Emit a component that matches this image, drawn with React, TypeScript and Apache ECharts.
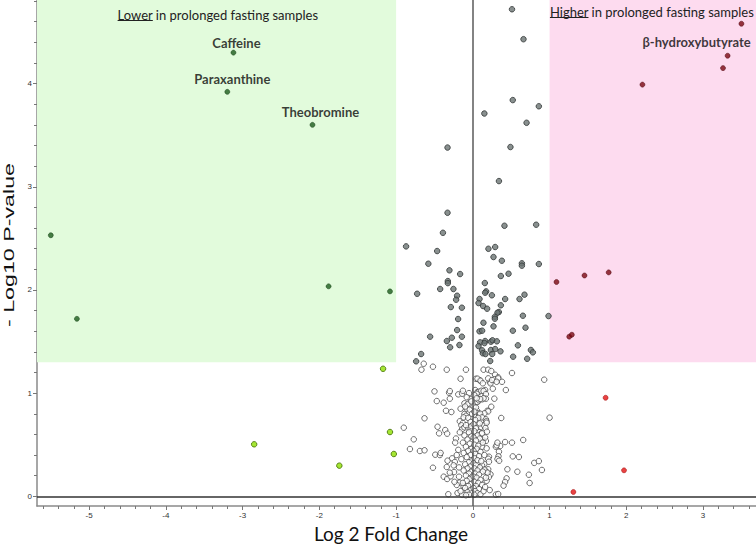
import React, { useEffect, useRef } from "react";
import * as echarts from "echarts";

// Axis extents and thresholds
const X_MIN = -5.68;
const X_MAX = 3.69;
const Y_MIN = -0.094;
const Y_MAX = 4.81;
const FC_CUT = 1;
const P_CUT = 1.3;

const xTickLabels = [-5, -4, -3, -2, -1, 0, 1, 2, 3];
const yTickLabels = [0, 1, 2, 3, 4];

// Significant, lower in fasting (dark green)
const sigDown: number[][] = [
  [-3.12, 4.3], [-3.2, 3.92], [-2.09, 3.6], [-5.5, 2.53], [-5.16, 1.72], [-1.88, 2.035], [-1.08, 1.986],
];
const sigDownNames = ["Caffeine", "Paraxanthine", "Theobromine", "", "", "", ""];

// Not significant, fold change < -1 (lime)
const nsDown: number[][] = [
  [-1.17, 1.236], [-2.85, 0.504], [-1.74, 0.297], [-1.08, 0.623], [-1.03, 0.41],
];

// Significant, higher in fasting (dark red)
const sigUp: number[][] = [
  [3.5, 4.58], [3.32, 4.27], [3.26, 4.15], [2.21, 3.99], [1.09, 2.077], [1.455, 2.14], [1.77, 2.17], [1.256, 1.547], [1.29, 1.566],
];
const sigUpNames = ["", "β-hydroxybutyrate", "", "", "", "", "", "", ""];

// Not significant, fold change > 1 (red)
const nsUp: number[][] = [
  [1.73, 0.955], [1.97, 0.252], [1.31, 0.042],
];

// Significant, |fold change| < 1 (grey filled)
const sigFlat: number[][] = [
  [0.51, 4.72], [0.66, 4.43], [0.52, 3.84], [0.86, 3.78], [0.15, 3.71], [0.7, 3.62], [-0.33, 3.38], [0.49, 3.385], [0.34, 3.055],
  [-0.33, 2.748], [-0.39, 2.554], [-0.87, 2.422], [-0.465, 2.377], [-0.58, 2.254], [-0.305, 2.19], [-0.166, 2.154], [-0.326, 2.086],
  [-0.326, 2.066], [-0.726, 1.963], [-0.426, 2.009], [-0.253, 2.009], [-0.205, 1.944], [-0.218, 1.905], [-0.287, 1.834], [-0.143, 1.828],
  [-0.192, 1.718], [-0.205, 1.611], [-0.557, 1.547], [-0.274, 1.537], [-0.143, 1.547], [-0.339, 1.505], [-0.175, 1.466], [-0.296, 1.444],
  [-0.674, 1.379], [-0.739, 1.308],
  [0.412, 2.622], [0.825, 2.632], [0.203, 2.399], [0.291, 2.416], [0.269, 2.319], [0.378, 2.283], [0.639, 2.258], [0.639, 2.235],
  [0.86, 2.251], [0.365, 2.135], [0.465, 2.157], [0.156, 2.067], [0.173, 1.986], [0.16, 1.973], [0.248, 1.948], [0.087, 1.912],
  [0.421, 1.912], [0.608, 1.912], [0.673, 1.954], [0.074, 1.873], [0.134, 1.844], [0.186, 1.818], [0.365, 1.851], [0.339, 1.786],
  [0.321, 1.779], [0.287, 1.74], [0.287, 1.721], [0.652, 1.75], [0.986, 1.747], [0.138, 1.682], [0.269, 1.647], [0.521, 1.605],
  [0.686, 1.634], [0.087, 1.599], [0.121, 1.605], [0.16, 1.505], [0.095, 1.492], [0.152, 1.485], [0.235, 1.498], [0.256, 1.512],
  [0.313, 1.502], [0.074, 1.456], [0.121, 1.415], [0.13, 1.386], [0.165, 1.379], [0.235, 1.418], [0.252, 1.379], [0.291, 1.427],
  [0.36, 1.405], [0.587, 1.463], [0.525, 1.353], [0.756, 1.418], [0.782, 1.395], [0.708, 1.333], [0.226, 1.311],
];

// Not significant, |fold change| < 1 (open circles)
const nsFlat: number[][] = [
  [-0.64, 1.285], [-0.67, 1.227], [-0.52, 1.256], [-0.34, 1.227], [-0.09, 1.227], [0.14, 1.227], [0.2, 1.227], [0.24, 1.214],
  [0.29, 1.178], [0.33, 1.153], [0.28, 1.134], [0.38, 1.11], [0.51, 1.195], [0.93, 1.13], [0.04, 1.139], [0.09, 1.124],
  [0.22, 1.11], [0.23, 1.095], [-0.16, 1.139], [0.06, 1.14], [0.1, 1.12], [0.13, 1.095], [0.2, 1.143], [0.25, 1.127],
  [0.33, 1.143], [0.31, 1.11],
  [-0.5, 1.017], [-0.31, 1.004], [-0.3, 1.02], [-0.19, 0.988], [-0.14, 0.994], [-0.13, 1.023], [0.03, 1.03], [0.06, 1.011],
  [0.1, 0.991], [0.16, 1.03], [0.26, 1.043], [0.43, 1.03], [0.08, 1.013], [0.11, 1.023], [0.05, 0.994], [0.14, 1.02], [0.17, 0.99],
  [-0.47, 0.923], [-0.38, 0.907], [-0.3, 0.946], [-0.11, 0.901], [-0.07, 0.891], [-0.03, 0.94], [0.03, 0.901], [0.06, 0.914],
  [0.08, 0.93], [0.12, 0.94], [0.17, 0.946], [0.28, 0.946], [0.14, 0.95], [0.095, 0.943], [0.24, 0.868],
  [-0.35, 0.829], [-0.28, 0.817], [-0.16, 0.849], [-0.08, 0.849], [-0.11, 0.797], [-0.09, 0.781], [-0.12, 0.765], [0.056, 0.827],
  [0.065, 0.804], [0.043, 0.778], [0.082, 0.788], [0.19, 0.829], [0.2, 0.823], [0.15, 0.804], [0.095, 0.8], [0.12, 0.765],
  [0.17, 0.746], [0.37, 0.759], [1.0, 0.762], [-0.63, 0.756],
  [-0.17, 0.727], [-0.13, 0.71], [-0.15, 0.688], [-0.14, 0.649], [-0.11, 0.668], [-0.06, 0.662], [-0.03, 0.649], [0.065, 0.698],
  [0.052, 0.655], [0.099, 0.669], [0.082, 0.623], [0.112, 0.61], [0.143, 0.688], [0.177, 0.727], [0.164, 0.662], [0.183, 0.626],
  [0.09, 0.707], [0.18, 0.713], [-0.9, 0.665], [-0.46, 0.674], [-0.36, 0.642], [-0.335, 0.607], [-0.44, 0.61],
  [-0.77, 0.552], [-0.82, 0.458], [-0.69, 0.439], [-0.63, 0.446], [-0.49, 0.403], [-0.43, 0.4], [-0.42, 0.42], [-0.27, 0.368],
  [-0.33, 0.345], [0.656, 0.546], [0.51, 0.52], [0.42, 0.526], [0.356, 0.487], [0.3, 0.48], [0.34, 0.432], [0.52, 0.387],
  [0.6, 0.381], [0.13, 0.546], [0.17, 0.536], [0.12, 0.61], [0.12, 0.48], [0.18, 0.465], [0.31, 0.494], [0.32, 0.52],
  [0.21, 0.384], [0.2, 0.364], [0.334, 0.388], [0.321, 0.361], [0.343, 0.345],
  [0.8, 0.324], [0.86, 0.341], [0.9, 0.255], [0.45, 0.262], [0.58, 0.238], [0.73, 0.209], [0.74, 0.129], [0.44, 0.174],
  [0.42, 0.139], [0.4, 0.103], [0.3, 0.016], [0.33, 0.022], [0.23, 0.213], [0.21, 0.187], [0.2, 0.262], [0.175, 0.238],
  [0.15, 0.313], [0.21, 0.335], [0.12, 0.3], [0.151, 0.258], [0.191, 0.229],
  [-0.52, 0.277], [-0.34, 0.284], [-0.235, 0.333], [-0.38, 0.19], [-0.335, 0.168], [-0.245, 0.235], [-0.18, 0.19], [-0.29, 0.194],
  [-0.3, 0.229], [-0.175, 0.132], [-0.12, 0.093], [-0.075, 0.07], [-0.32, 0.02], [-0.2, 0.032], [-0.14, 0.015],
  [-0.05, 1.0], [-0.08, 0.96], [-0.02, 0.92], [-0.1, 0.87], [-0.04, 0.84], [-0.01, 0.8], [-0.06, 0.76], [-0.03, 0.72],
  [-0.09, 0.69], [-0.02, 0.68], [-0.05, 0.62], [-0.11, 0.59], [-0.02, 0.58], [-0.07, 0.55], [-0.13, 0.52], [-0.04, 0.51],
  [-0.09, 0.48], [-0.02, 0.46], [-0.06, 0.44], [-0.12, 0.42], [-0.03, 0.4], [-0.08, 0.38], [-0.15, 0.36], [-0.01, 0.35],
  [-0.05, 0.33], [-0.1, 0.31], [-0.03, 0.29], [-0.07, 0.27], [-0.12, 0.25], [-0.02, 0.24], [-0.05, 0.22], [-0.09, 0.2],
  [-0.01, 0.19], [-0.04, 0.17], [-0.08, 0.15], [-0.13, 0.13], [-0.02, 0.12], [-0.06, 0.1], [-0.1, 0.08], [-0.03, 0.06],
  [-0.07, 0.04], [-0.01, 0.03], [-0.05, 0.015], [-0.09, 0.01], [-0.16, 0.05], [-0.21, 0.11], [-0.25, 0.3], [-0.19, 0.45],
  [-0.22, 0.56], [-0.18, 0.28], [-0.21, 0.4], [-0.24, 0.14], [-0.17, 0.62], [-0.23, 0.52],
  [0.02, 0.98], [0.05, 0.95], [0.01, 0.87], [0.04, 0.86], [0.02, 0.82], [0.07, 0.76], [0.03, 0.74], [0.01, 0.7],
  [0.04, 0.66], [0.02, 0.63], [0.06, 0.59], [0.01, 0.57], [0.09, 0.56], [0.04, 0.54], [0.02, 0.5], [0.07, 0.49],
  [0.05, 0.46], [0.01, 0.44], [0.1, 0.43], [0.03, 0.41], [0.08, 0.39], [0.02, 0.37], [0.06, 0.35], [0.11, 0.34],
  [0.01, 0.32], [0.04, 0.3], [0.09, 0.28], [0.02, 0.27], [0.06, 0.25], [0.13, 0.24], [0.03, 0.22], [0.08, 0.21],
  [0.01, 0.19], [0.05, 0.18], [0.1, 0.16], [0.02, 0.14], [0.07, 0.13], [0.12, 0.11], [0.04, 0.1], [0.01, 0.08],
  [0.08, 0.07], [0.03, 0.05], [0.06, 0.03], [0.1, 0.02], [0.02, 0.015], [0.14, 0.05], [0.16, 0.09], [0.18, 0.15],
  [0.15, 0.4], [0.17, 0.18], [0.13, 0.52], [0.22, 0.06], [0.16, 0.57],
];

const labelOffsets: Record<string, number[]> = {
  Caffeine: [3, -10],
  Paraxanthine: [5, -13],
  Theobromine: [8, -13],
  "β-hydroxybutyrate": [-31, -14],
};

const LABEL_FONT = "Lato";
const TICK_FONT = "Liberation Sans";
const ANN_SIZE = 13;

function measure(text: string, font: string, fallbackPerChar: number): number {
  try {
    const c = document.createElement("canvas").getContext("2d");
    if (!c) return text.length * fallbackPerChar;
    c.font = font;
    const w = c.measureText(text).width;
    return isFinite(w) && w > 0 ? w : text.length * fallbackPerChar;
  } catch (e) {
    return text.length * fallbackPerChar;
  }
}

function minorTicks(lo: number, hi: number, step: number): number[] {
  const out: number[] = [];
  const start = Math.ceil(lo / step);
  const end = Math.floor(hi / step);
  for (let i = start; i <= end; i++) out.push(Math.round(i * step * 1000) / 1000);
  return out;
}

function withLabels(points: number[][], names: string[]) {
  return points.map((p, i) => {
    const name = names[i];
    if (!name) return { value: p };
    return {
      value: p,
      name,
      label: {
        show: true,
        position: "inside",
        offset: labelOffsets[name] || [0, -12],
        formatter: name,
        fontFamily: LABEL_FONT,
        fontWeight: "bold",
        fontSize: 13,
        color: "#0a0a0a",
      },
    };
  });
}

export default function App() {
  const ref = useRef<HTMLDivElement>(null);

  useEffect(() => {
    if (!ref.current) return;
    const chart = echarts.init(ref.current, null, { renderer: "svg" });

    const annFont = `${ANN_SIZE}px ${LABEL_FONT}`;
    const lowerText = "Lower in prolonged fasting samples";
    const higherText = "Higher in prolonged fasting samples";
    const lowerW = measure(lowerText, annFont, 6);
    const higherW = measure(higherText, annFont, 6);
    const lowerUW = measure("Lower", annFont, 6.5);
    const higherUW = measure("Higher", annFont, 6.5);
    const lowerX = 218 - lowerW / 2;
    const higherX = 652 - higherW / 2;

    const baseAxisX = {
      type: "value",
      min: X_MIN,
      max: X_MAX,
      splitLine: { show: false },
    };
    const baseAxisY = {
      type: "value",
      min: Y_MIN,
      max: Y_MAX,
      splitLine: { show: false },
    };

    const option: any = {
      animation: false,
      backgroundColor: "#ffffff",
      grid: { left: 37, right: 0, top: 0, bottom: 46, containLabel: false },
      xAxis: [
        {
          ...baseAxisX,
          axisLine: { show: true, onZero: false, lineStyle: { color: "#8a8a8a", width: 1.5 } },
          axisTick: { show: true, length: 4, customValues: xTickLabels, lineStyle: { color: "#777" } },
          axisLabel: {
            customValues: xTickLabels,
            fontSize: 8,
            color: "#333",
            fontFamily: TICK_FONT,
            margin: 5,
          },
        },
        {
          ...baseAxisX,
          position: "bottom",
          axisLine: { show: false, onZero: false },
          axisTick: { show: true, length: 3, customValues: minorTicks(X_MIN, X_MAX, 0.2), lineStyle: { color: "#777" } },
          axisLabel: { show: false },
        },
      ],
      yAxis: [
        {
          ...baseAxisY,
          axisLine: { show: true, onZero: false, lineStyle: { color: "#8a8a8a", width: 1.5 } },
          axisTick: { show: true, length: 4, customValues: yTickLabels, lineStyle: { color: "#777" } },
          axisLabel: {
            customValues: yTickLabels,
            fontSize: 8,
            color: "#333",
            fontFamily: TICK_FONT,
            margin: 5,
          },
        },
        {
          ...baseAxisY,
          position: "left",
          axisLine: { show: false, onZero: false },
          axisTick: { show: true, length: 3, customValues: minorTicks(Y_MIN, Y_MAX, 0.2), lineStyle: { color: "#777" } },
          axisLabel: { show: false },
        },
      ],
      series: [
        {
          type: "scatter",
          name: "regions",
          data: [],
          silent: true,
          markArea: {
            silent: true,
            itemStyle: { color: "#e2fbdc" },
            data: [
              [
                { xAxis: X_MIN, yAxis: P_CUT, itemStyle: { color: "#e2fbdc" } },
                { xAxis: -FC_CUT, yAxis: Y_MAX },
              ],
              [
                { xAxis: FC_CUT, yAxis: P_CUT, itemStyle: { color: "#fddbef" } },
                { xAxis: X_MAX, yAxis: Y_MAX },
              ],
            ],
          },
          markLine: {
            silent: true,
            symbol: "none",
            label: { show: false },
            data: [
              { xAxis: 0, lineStyle: { color: "#5a5a5a", width: 1.5, type: "solid" } },
              { yAxis: 0, lineStyle: { color: "#333333", width: 1.5, type: "solid" } },
            ],
          },
        },
        {
          type: "scatter",
          name: "ns",
          data: nsFlat,
          symbolSize: 5.5,
          itemStyle: { color: "#ffffff", borderColor: "#4a4a4a", borderWidth: 1 },
        },
        {
          type: "scatter",
          name: "sig",
          data: sigFlat,
          symbolSize: 5.5,
          itemStyle: { color: "#6c7473", borderColor: "#2e3333", borderWidth: 1 },
        },
        {
          type: "scatter",
          name: "nsDown",
          data: nsDown,
          symbolSize: 5.5,
          itemStyle: { color: "#8fe000", borderColor: "#3f6a00", borderWidth: 1 },
        },
        {
          type: "scatter",
          name: "nsUp",
          data: nsUp,
          symbolSize: 5,
          itemStyle: { color: "#e21414", borderColor: "#9a0000", borderWidth: 0.6 },
        },
        {
          type: "scatter",
          name: "sigDown",
          data: withLabels(sigDown, sigDownNames),
          symbolSize: 5,
          itemStyle: { color: "#1d5c1d", borderColor: "#0c380c", borderWidth: 0.6 },
        },
        {
          type: "scatter",
          name: "sigUp",
          data: withLabels(sigUp, sigUpNames),
          symbolSize: 5,
          itemStyle: { color: "#7a0812", borderColor: "#4a0008", borderWidth: 0.6 },
        },
      ],
      graphic: [
        {
          type: "text",
          x: lowerX,
          y: 14.5,
          z: 100,
          style: {
            text: lowerText,
            fontFamily: LABEL_FONT,
            fontSize: ANN_SIZE,
            fill: "#222",
            align: "left",
            verticalAlign: "middle",
          },
        },
        {
          type: "line",
          z: 100,
          shape: { x1: lowerX, y1: 20.5, x2: lowerX + lowerUW, y2: 20.5 },
          style: { stroke: "#222", lineWidth: 1 },
        },
        {
          type: "text",
          x: higherX,
          y: 11.5,
          z: 100,
          style: {
            text: higherText,
            fontFamily: LABEL_FONT,
            fontSize: ANN_SIZE,
            fill: "#222",
            align: "left",
            verticalAlign: "middle",
          },
        },
        {
          type: "line",
          z: 100,
          shape: { x1: higherX, y1: 17.5, x2: higherX + higherUW, y2: 17.5 },
          style: { stroke: "#222", lineWidth: 1 },
        },
        {
          type: "text",
          x: 391,
          y: 533,
          style: {
            text: "Log 2 Fold Change",
            fontFamily: LABEL_FONT,
            fontSize: 19,
            fill: "#111",
            align: "center",
            verticalAlign: "middle",
          },
        },
        {
          type: "text",
          x: 9,
          y: 245,
          rotation: Math.PI / 2,
          scaleX: 1.55,
          scaleY: 1,
          style: {
            text: "- Log10 P-value",
            fontFamily: "Liberation Sans",
            fontSize: 15,
            fill: "#111",
            align: "center",
            verticalAlign: "middle",
          },
        },
      ],
    };

    chart.setOption(option);
    return () => chart.dispose();
  }, []);

  return (
    <div
      ref={ref}
      style={{ position: "fixed", left: 0, top: 0, width: 756, height: 552 }}
    />
  );
}
